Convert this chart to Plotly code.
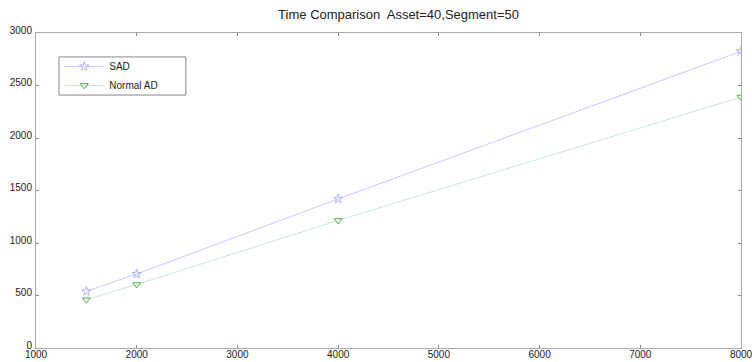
import plotly.graph_objects as go

x_vals = [1500, 2000, 4000, 8000]
sad = [540, 705, 1420, 2825]
normal_ad = [460, 605, 1215, 2390]
title = "Time Comparison  Asset=40,Segment=50"

fig = go.Figure()
fig.add_trace(go.Scatter(
    x=x_vals, y=sad, name="SAD", mode="lines+markers",
    line=dict(color="#c8c8ff", width=1),
    marker=dict(symbol="star-open", size=7, color="#b0b0ff", line=dict(width=1)),
))
fig.add_trace(go.Scatter(
    x=x_vals, y=normal_ad, name="Normal AD", mode="lines+markers",
    line=dict(color="#cce6cc", width=1),
    marker=dict(symbol="triangle-down-open", size=7, color="#50b050", line=dict(width=1)),
))

axis_common = dict(
    showgrid=False, zeroline=False, showline=True, linecolor="#aaaaaa", linewidth=1,
    mirror="ticks", ticks="inside", ticklen=3, tickcolor="#888888",
    ticklabeloverflow="allow", automargin=False,
    tickfont=dict(family="Liberation Sans, Arial", size=10, color="#222222"),
)
fig.update_layout(
    width=752, height=362,
    margin=dict(l=36, r=11, t=33, b=14),
    paper_bgcolor="white", plot_bgcolor="white",
    title=dict(text=title, x=0.53, xanchor="center", y=0.96, yanchor="middle",
               font=dict(family="Liberation Sans, Arial", size=13, color="#222222")),
    xaxis=dict(range=[1000, 8000], tickvals=[1000, 2000, 3000, 4000, 5000, 6000, 7000, 8000],
               ticklabelstandoff=-3, **axis_common),
    yaxis=dict(range=[0, 3000], tickvals=[0, 500, 1000, 1500, 2000, 2500, 3000],
               ticklabelshift=-3, ticklabelstandoff=1, **axis_common),
    legend=dict(x=0.033, y=0.94, xanchor="left", yanchor="top",
                borderwidth=0, bgcolor="rgba(0,0,0,0)",
                font=dict(family="Liberation Sans, Arial", size=10, color="#222222"),
                itemwidth=40, tracegroupgap=0),
    showlegend=True,
    shapes=[dict(type="rect", xref="paper", yref="paper",
                 x0=0.0326, x1=0.2125, y0=0.803, y1=0.924,
                 line=dict(color="#888888", width=1), fillcolor="white", layer="below")],
)
fig.write_html("out.html")
